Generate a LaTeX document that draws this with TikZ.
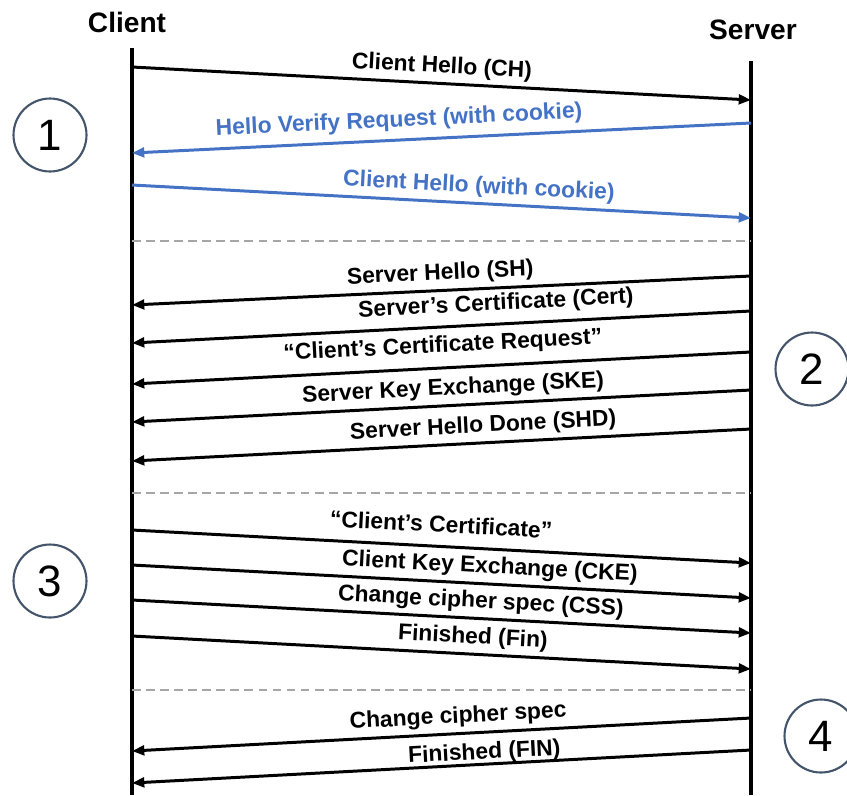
\documentclass[tikz,border=0pt]{standalone}
\usepackage{fontspec}
\setmainfont{Liberation Sans}
\usepackage{tikz}
\usepackage{xcolor}
\usetikzlibrary{%
  arrows.meta,
  positioning,calc
}

\definecolor{msgblue}{HTML}{4472C4}
\definecolor{ringgray}{HTML}{44546A}
\definecolor{sepgray}{HTML}{A6A6A6}

\tikzset{
  msg/.style={line width=1.7pt,-{Triangle[length=7pt,width=5.5pt]}},
  msgback/.style={line width=1.7pt,{Triangle[length=7pt,width=5.5pt]}-},
  msglabel/.style={font=\bfseries\fontsize{13}{15}\selectfont,sloped,
    anchor=south,inner sep=2.5pt},
  phase/.style={circle,draw=ringgray,line width=1.2pt,minimum size=1.46cm,
    inner sep=0pt,font=\fontsize{25}{25}\selectfont},
  party/.style={font=\bfseries\fontsize{16}{18}\selectfont},
  sepline/.style={sepgray,line width=0.8pt,dash pattern=on 5pt off 3pt}
}

\begin{document}
\begin{tikzpicture}[x=0.02cm,y=-0.02cm]
  \useasboundingbox (0,0) rectangle (847,795);

  \def\cx{132}
  \def\sx{751}

  % parties and lifelines
  \node[party] (client) at (127,22) {Client};
  \node[party] (server) at (753,30) {Server};
  \coordinate (ctop) at (\cx,48);
  \coordinate (cbot) at (\cx,795);
  \coordinate (stop) at (\sx,61);
  \coordinate (sbot) at (\sx,795);
  \draw[line width=2.3pt] (ctop) -- (cbot);
  \draw[line width=2.3pt] (stop) -- (sbot);

  % phase separators
  \foreach \y in {241,493,690} {
    \draw[sepline] (\cx,\y) -- (\sx,\y);
  }

  % client -> server
  \foreach \yc/\ys/\lx/\dy/\txt/\col [count=\i] in {
    67/100/441/0/Client Hello (CH)/black,
    185/218/478/0/Client Hello (with cookie)/msgblue,
    530/563/440/4.5/“Client’s Certificate”/black,
    565/598/489/0/Client Key Exchange (CKE)/black,
    600/633/480/0/Change cipher spec (CSS)/black,
    636/669/472/0/Finished (Fin)/black} {
    \coordinate (qc\i) at (\cx,\yc);
    \coordinate (qs\i) at (\sx,\ys);
    \pgfmathsetmacro{\p}{(\lx-\cx)/(\sx-\cx)}
    \draw[msg,\col] (qc\i) -- node[msglabel,pos=\p,yshift=\dy pt] {\txt} (qs\i);
  }

  % server -> client
  \foreach \ys/\yc/\lx/\dy/\txt/\col [count=\i] in {
    123/153/400/1.5/Hello Verify Request (with cookie)/msgblue,
    276/305/441/0/Server Hello (SH)/black,
    311/343/497/2/Server’s Certificate (Cert)/black,
    352/384/444/3/“Client’s Certificate Request”/black,
    390/422/454/0/Server Key Exchange (SKE)/black,
    429/461/484/0/Server Hello Done (SHD)/black,
    718/751/459/0/Change cipher spec/black,
    750/783/485/-3/Finished (FIN)/black} {
    \coordinate (rs\i) at (\sx,\ys);
    \coordinate (rc\i) at (\cx,\yc);
    \pgfmathsetmacro{\p}{(\lx-\cx)/(\sx-\cx)}
    \draw[msgback,\col] (rc\i) -- node[msglabel,pos=\p,yshift=\dy pt] {\txt} (rs\i);
  }

  % phases
  \node[phase] (one) at (50,135) {1};
  \node[phase] (two) at (812,369) {2};
  \node[phase] (three) at (50,581) {3};
  \node[phase] (four) at (821,736) {4};
\end{tikzpicture}
\end{document}
